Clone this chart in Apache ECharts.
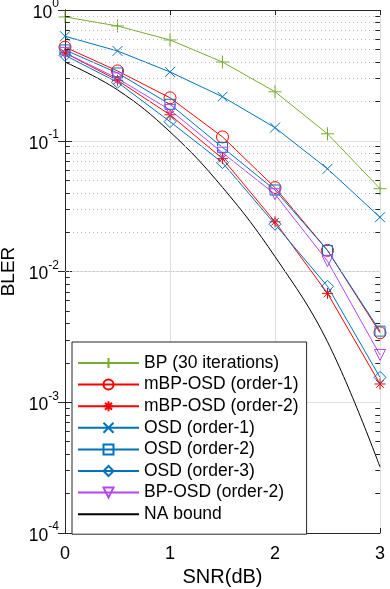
<!DOCTYPE html>
<html>
<head>
<meta charset="utf-8">
<title>BLER vs SNR</title>
<script src="https://cdn.jsdelivr.net/npm/echarts@6/dist/echarts.min.js"></script>
</head>
<body style="margin:0">
<div id="main" style="width:390px;height:589px;"></div>
<script type="text/javascript">
var snr = [0, 0.5, 1, 1.5, 2, 2.5, 3];
var bp = [0.885, 0.755, 0.59, 0.40, 0.237, 0.113, 0.043];
var mbpOsd1 = [0.52, 0.342, 0.213, 0.107, 0.0438, 0.0145, 0.0034];
var mbpOsd2 = [0.47, 0.29, 0.158, 0.073, 0.024, 0.0068, 0.00138];
var osd1 = [0.63, 0.486, 0.336, 0.217, 0.126, 0.061, 0.026];
var osd2 = [0.495, 0.33, 0.19, 0.089, 0.042, 0.0145, 0.0035];
var osd3 = [0.45, 0.28, 0.14, 0.068, 0.023, 0.0077, 0.00155];
var bpOsd2 = [0.47, 0.30, 0.172, 0.081, 0.039, 0.012, 0.0023];
var naBound = [0.40, 0.245, 0.117, 0.044, 0.013, 0.0029, 0.00032];
var legendNames = ['BP (30 iterations)', 'mBP-OSD (order-1)', 'mBP-OSD (order-2)', 'OSD (order-1)',
    'OSD (order-2)', 'OSD (order-3)', 'BP-OSD (order-2)', 'NA bound'];
var minorValues = [];
[1e-4, 1e-3, 1e-2, 1e-1].forEach(function (d) {
    for (var k = 2; k <= 9; k++) minorValues.push(+(k * d).toPrecision(2));
});

var chartDom = document.getElementById('main');
var myChart = echarts.init(chartDom);
var font = 'Liberation Sans, Arial, Helvetica, sans-serif';
var axisColor = '#262626';

// marker shapes that echarts doesn't ship
var plusPath = 'path://M0,-1L0,1M-1,0L1,0';
var xPath = 'path://M-1,-1L1,1M-1,1L1,-1';
var starPath = 'path://M0,-1L0,1M-1,0L1,0M-0.7,-0.7L0.7,0.7M-0.7,0.7L0.7,-0.7';

function mk(name, vals, color, symbol, size, rotate) {
    return {
        name: name,
        type: 'line',
        data: snr.map(function (x, i) { return [x, vals[i]]; }),
        symbol: symbol,
        symbolSize: size,
        symbolRotate: rotate || 0,
        clip: false,
        z: 3,
        lineStyle: { color: color, width: 1 },
        itemStyle: { color: 'rgba(0,0,0,0)', borderColor: color, borderWidth: 1 }
    };
}

var series = [
    mk(legendNames[0], bp, '#77AC30', plusPath, 13),
    mk(legendNames[1], mbpOsd1, '#FF0000', 'circle', 12),
    mk(legendNames[2], mbpOsd2, '#FF0000', starPath, 11),
    mk(legendNames[3], osd1, '#0072BD', xPath, 10),
    mk(legendNames[4], osd2, '#0072BD', 'rect', 10),
    mk(legendNames[5], osd3, '#0072BD', 'diamond', 12),
    mk(legendNames[6], bpOsd2, '#B347F5', 'triangle', 11, 180),
    {
        name: legendNames[7],
        type: 'line',
        data: snr.map(function (x, i) { return [x, naBound[i]]; }),
        symbol: 'none',
        smooth: 0.4,
        z: 3,
        lineStyle: { color: '#000000', width: 1 },
        itemStyle: { color: '#000000' }
    },
    {
        // dotted minor grid
        name: 'minor',
        type: 'line',
        data: [],
        z: 1,
        silent: true,
        markLine: {
            silent: true,
            symbol: 'none',
            label: { show: false },
            lineStyle: { color: '#BDBDBD', type: [1, 3], width: 1 },
            data: minorValues.map(function (v) { return { yAxis: v }; })
        }
    },
    {
        // minor ticks, left and right
        name: 'minorTicks',
        type: 'line',
        data: [],
        z: 2,
        silent: true,
        markLine: {
            silent: true,
            symbol: 'none',
            label: { show: false },
            lineStyle: { color: axisColor, type: 'solid', width: 1 },
            data: minorValues.map(function (v) {
                return [{ coord: [0, v] }, { coord: [0.045, v] }];
            }).concat(minorValues.map(function (v) {
                return [{ coord: [2.955, v] }, { coord: [3, v] }];
            }))
        }
    }
];

var option = {
    animation: false,
    textStyle: { fontFamily: font },
    grid: { left: 65, right: 10, top: 10, bottom: 56, containLabel: false, outerBoundsMode: 'none' },
    legend: {
        orient: 'vertical',
        left: 72,
        top: 342,
        data: legendNames.map(function (n) {
            if (n === 'NA bound') return { name: n, itemStyle: { opacity: 0 } };
            return { name: n };
        }),
        backgroundColor: '#ffffff',
        borderColor: axisColor,
        borderWidth: 1,
        borderRadius: 0,
        padding: [12, 8, 11, 5],
        itemWidth: 61,
        itemHeight: 12.5,
        itemGap: 3.6,
        textStyle: { fontSize: 17.5, color: '#000', fontFamily: font }
    },
    xAxis: [
        {
            type: 'value',
            min: 0,
            max: 3,
            interval: 1,
            name: 'SNR(dB)',
            nameLocation: 'middle',
            nameGap: 32,
            nameTextStyle: { fontSize: 20, color: '#000', fontFamily: font },
            axisLine: { lineStyle: { color: axisColor } },
            axisTick: { inside: true, length: 5, lineStyle: { color: axisColor } },
            axisLabel: { fontSize: 18, color: '#000', margin: 12, fontFamily: font },
            splitLine: { show: true, lineStyle: { color: '#DFDFDF', width: 1 } }
        },
        {
            type: 'value',
            position: 'top',
            min: 0,
            max: 3,
            interval: 1,
            axisLine: { show: true, lineStyle: { color: axisColor } },
            axisTick: { inside: true, length: 5, lineStyle: { color: axisColor } },
            axisLabel: { show: false },
            splitLine: { show: false }
        }
    ],
    yAxis: [
        {
            type: 'log',
            min: 1e-4,
            max: 1,
            logBase: 10,
            name: 'BLER',
            nameLocation: 'middle',
            nameGap: 41,
            nameTextStyle: { fontSize: 19, color: '#000', fontFamily: font },
            axisLine: { show: true, lineStyle: { color: axisColor } },
            axisTick: { show: true, inside: true, length: 7, lineStyle: { color: axisColor } },
            axisLabel: {
                margin: 6,
                color: '#000',
                formatter: function (v) {
                    var e = Math.round(Math.log10(v));
                    return '{b|10}{s|' + e + '}';
                },
                rich: {
                    b: { fontSize: 17.5, lineHeight: 24, verticalAlign: 'bottom', color: '#000', fontFamily: font },
                    s: { fontSize: 12, lineHeight: 12, verticalAlign: 'top', color: '#000', fontFamily: font }
                }
            },
            splitLine: { show: true, lineStyle: { color: '#DFDFDF', width: 1 } }
        },
        {
            type: 'log',
            position: 'right',
            min: 1e-4,
            max: 1,
            logBase: 10,
            axisLine: { show: true, lineStyle: { color: axisColor } },
            axisTick: { show: true, inside: true, length: 7, lineStyle: { color: axisColor } },
            axisLabel: { show: false },
            splitLine: { show: false }
        }
    ],
    series: series
};

if (option && typeof option === 'object') {
    myChart.setOption(option);
}
</script>
</body>
</html>
